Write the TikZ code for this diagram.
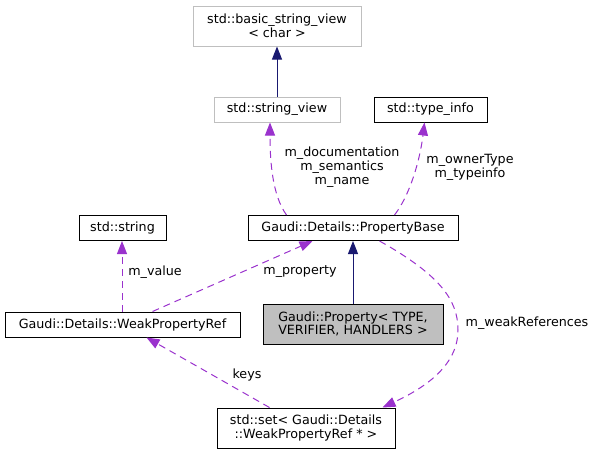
\documentclass[tikz,border=0pt]{standalone}
\usepackage{fontspec}
\setmainfont{DejaVu Sans}
\usetikzlibrary{positioning,arrows.meta,calc}
\definecolor{edgepurple}{RGB}{154,50,205}
\definecolor{edgenavy}{RGB}{25,25,112}
\definecolor{boxgray}{RGB}{191,191,191}

\begin{document}
\begin{tikzpicture}[x=1pt,y=-1pt,
    every node/.style={font=\fontsize{12.7}{13.8}\selectfont,align=center,inner sep=0pt},
    classbox/.style={draw=black,rectangle,line width=1pt,minimum height=25pt},
    extbox/.style={draw=boxgray,rectangle,line width=1pt,minimum height=25pt},
    usage/.style={draw=edgepurple,dashed,dash pattern=on 7pt off 5pt,line width=1pt,-{Triangle[length=13pt,width=10pt]}},
    inherit/.style={draw=edgenavy,line width=1pt,-{Triangle[length=13pt,width=10pt]}}]
    \useasboundingbox (0,0) rectangle (597,455);

    % Top: string views
    \node[extbox,minimum width=168pt,minimum height=40pt] (bsv) at (277,26) {std::basic\_string\_view\\{}< char >};
    \node[extbox,minimum width=126pt] (sv) at (277,109.5) {std::string\_view};
    \node[classbox,minimum width=113pt] (ti) at (430.5,109.5) {std::type\_info};

    % Middle row
    \node[classbox,minimum width=210pt] (pb) at (353,228) {Gaudi::Details::PropertyBase};
    \node[classbox,minimum width=87pt] (str) at (122.5,228) {std::string};
    \node[classbox,minimum width=235pt] (wpr) at (122.5,324.5) {Gaudi::Details::WeakPropertyRef};
    \node[classbox,fill=boxgray,minimum width=180pt,minimum height=40pt] (prop) at (353,324) {Gaudi::Property< TYPE,\\VERIFIER, HANDLERS >};

    % Bottom
    \node[classbox,minimum width=178pt,minimum height=40pt] (set) at (306,428) {std::set< Gaudi::Details\\::WeakPropertyRef * >};

    % Inheritance
    \draw[inherit] (sv) -- (bsv);
    \draw[inherit] (prop) -- (pb);

    % Members
    \draw[usage] ($(pb.north west)+(39,0)$) .. controls (272,195) and (270,160) .. (sv.south -| 270,0);
    \draw[usage] ($(pb.north west)+(147,0)$) .. controls (410,195) and (420,160) .. ($(ti.south west)+(51,0)$);
    \draw[usage] (wpr.north -| 122,0) -- (str.south -| 122,0);
    \draw[usage] ($(wpr.north west)+(148,0)$) -- ($(pb.south west)+(65,0)$);
    \draw[usage] ($(pb.south west)+(132,0)$) .. controls (440,275) and (458,300) .. (458,330)
        .. controls (458,368) and (420,390) .. ($(set.north west)+(166,0)$);
    \draw[usage] ($(set.north west)+(53,0)$) -- ($(wpr.south west)+(142,0)$);

    % Labels
    \node (lbsv) at (342,167) {m\_documentation\\m\_semantics\\m\_name};
    \node (lbti) at (470,167) {m\_ownerType\\m\_typeinfo};
    \node (lbval) at (155,272) {m\_value};
    \node (lbprop) at (300,272) {m\_property};
    \node (lbweak) at (527,323) {m\_weakReferences};
    \node (lbkeys) at (247,375) {keys};
\end{tikzpicture}
\end{document}
